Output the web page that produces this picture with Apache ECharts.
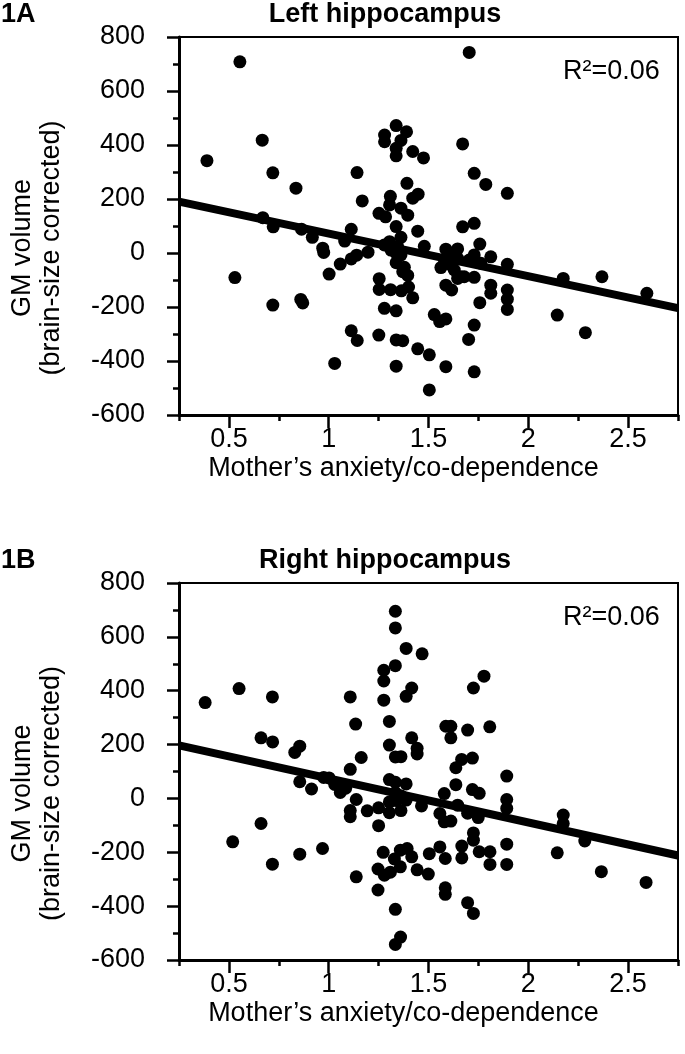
<!DOCTYPE html>
<html><head><meta charset="utf-8">
<script src="https://cdn.jsdelivr.net/npm/echarts@6/dist/echarts.min.js"></script>
<style>html,body{margin:0;padding:0;background:#fff}#c{width:685px;height:1054px}</style>
</head><body><div id="c"></div>
<script>
const panelLabels = ['1A', '1B'];
const panelTitles = ['Left hippocampus', 'Right hippocampus'];
const xAxisName = 'Mother\u2019s anxiety/co-dependence';
const yAxisName = 'GM volume\n(brain-size corrected)';
const rSquaredText = ['R\u00b2=0.06', 'R\u00b2=0.06'];
const xMajorTicks = [0.5, 1, 1.5, 2, 2.5];
const xMinorTicks = [0.25, 0.75, 1.25, 1.75, 2.25, 2.75];
const xRange = [0.25, 2.75];
const yRange = [-600, 800];
const yStep = 200;
const fitX = [0.25, 2.75];
const leftFitY = [190, -204];
const rightFitY = [197, -212];

const leftPoints = [
  [0.39,342],[0.53,-91],[0.555,708],[0.667,418],[0.67,131],[0.72,297],[0.722,97],[0.72,-193],
  [0.836,240],[0.864,88],[0.86,-172],[0.87,-185],[0.918,58],[0.97,18],[0.975,2],[1.002,-78],
  [1.03,-409],[1.058,-41],[1.08,44],[1.113,88],[1.113,-22],[1.113,-288],[1.143,-324],[1.142,298],
  [1.168,193],[1.197,3],[1.14,-8],
  [1.338,472],[1.39,449],[1.28,437],[1.28,412],[1.362,417],[1.338,388],[1.338,360],[1.421,376],
  [1.475,352],[1.392,258],[1.448,218],[1.421,203],[1.309,210],[1.305,178],[1.362,166],[1.252,147],
  [1.285,134],[1.396,140],[1.338,98],[1.446,81],[1.305,42],[1.362,58],[1.312,11],[1.346,23],
  [1.279,30],[1.338,-1],[1.362,-7],[1.338,-36],[1.379,-53],[1.371,-69],[1.396,-83],[1.253,-95],
  [1.253,-135],[1.31,-136],[1.364,-140],[1.4,-126],[1.421,-166],[1.279,-205],[1.338,-214],[1.479,25],
  [1.251,-304],[1.338,-322],[1.371,-325],[1.446,-355],[1.504,-377],[1.338,-419],[1.504,-507],
  [1.529,-228],[1.587,-244],[1.556,-254],[1.587,-421],[1.587,14],[1.646,15],[1.6,-8],[1.646,-20],
  [1.562,-54],[1.612,-44],[1.629,-63],[1.662,-88],[1.646,-94],[1.587,-119],[1.616,-137],[1.671,404],
  [1.704,743],[1.729,295],[1.787,254],[1.895,221],[1.671,97],[1.729,110],[1.757,33],[1.729,-7],
  [1.704,-26],[1.762,-38],[1.812,-14],[1.895,-42],[1.729,-90],[1.812,-119],[1.812,-149],[1.895,-137],
  [1.895,-171],[1.895,-209],[1.757,-184],[1.729,-267],[1.701,-320],[1.729,-440],[1.679,-88],[1.58,-26],
  [2.145,-230],[2.175,-94],[2.286,-295],[2.369,-88],[2.594,-149]
];

const rightPoints = [
  [0.381,356],[0.519,-161],[0.551,408],[0.661,225],[0.661,-93],[0.718,377],[0.719,210],[0.718,-244],
  [0.83,171],[0.855,194],[0.855,62],[0.855,-207],[0.914,35],[0.969,-186],[0.975,78],[1.002,76],
  [1.03,52],[1.058,22],[1.085,38],[1.108,377],[1.108,108],[1.135,276],[1.138,-4],[1.108,-45],
  [1.108,-68],[1.138,-291],[1.163,152],[1.193,-46],[1.25,-35],[1.25,-101],[1.247,-262],[1.247,-340],
  [1.273,-200],[1.279,-285],[1.309,-274],[1.276,476],[1.276,436],[1.276,365],[1.304,286],[1.304,198],
  [1.334,695],[1.334,633],[1.334,493],[1.334,154],[1.362,155],[1.388,557],[1.468,537],[1.416,410],
  [1.388,379],[1.416,225],[1.443,186],[1.443,165],[1.304,70],[1.334,60],[1.388,54],[1.334,22],
  [1.362,10],[1.338,-8],[1.304,-13],[1.304,-53],[1.362,-45],[1.465,-28],[1.359,-192],[1.393,-186],
  [1.416,-217],[1.329,-225],[1.359,-254],[1.443,-265],[1.334,-412],[1.334,-542],[1.36,-515],[1.388,-6],
  [1.499,-281],[1.504,-205],[1.557,-180],[1.584,-223],[1.584,-332],[1.584,-356],[1.587,268],[1.612,268],
  [1.612,225],[1.696,254],[1.778,454],[1.725,410],[1.807,266],[1.666,145],[1.72,150],[1.637,114],
  [1.637,51],[1.579,18],[1.72,33],[1.754,19],[1.557,-56],[1.579,-87],[1.612,-84],[1.696,-55],
  [1.749,-71],[1.646,-25],[1.667,-177],[1.667,-221],[1.725,-155],[1.725,-128],[1.754,-198],[1.808,-198],
  [1.808,-245],[1.696,-387],[1.725,-427],[1.892,83],[1.892,-4],[1.892,-37],[1.892,-170],[1.892,-245],
  [2.145,-202],[2.175,-62],[2.175,-93],[2.283,-158],[2.366,-272],[2.59,-312]
];

const FONT = '"Liberation Sans", Arial, sans-serif';
const grids = [
  { left: 176, right: 7, top: 37, height: 378 },
  { left: 176, right: 7, top: 583, height: 377 }
];

const xAxes = [];
const yAxes = [];
grids.forEach((g, i) => {
  xAxes.push({
    type: 'value', gridIndex: i, min: xRange[0], max: xRange[1],
    position: 'bottom',
    name: xAxisName, nameLocation: 'middle', nameGap: 40,
    nameTextStyle: { fontFamily: FONT, fontSize: 27, color: '#000', padding: [0, 50, 0, 0] },
    axisLine: { show: true, onZero: false, lineStyle: { color: '#000', width: 3 } },
    axisTick: { show: true, inside: false, length: 13, customValues: xMajorTicks, lineStyle: { color: '#000', width: 2.5 } },
    axisLabel: { show: true, customValues: xMajorTicks, margin: 11, fontFamily: FONT, fontSize: 27, color: '#000' },
    splitLine: { show: false }
  });
  xAxes.push({
    type: 'value', gridIndex: i, min: xRange[0], max: xRange[1],
    position: 'bottom',
    axisLine: { show: false, onZero: false },
    axisTick: { show: true, inside: false, length: 6, customValues: xMinorTicks, lineStyle: { color: '#000', width: 2.5 } },
    axisLabel: { show: false },
    splitLine: { show: false }
  });
  yAxes.push({
    type: 'value', gridIndex: i, min: yRange[0], max: yRange[1], interval: yStep,
    name: yAxisName, nameLocation: 'middle', nameRotate: 90, nameGap: 113,
    nameTextStyle: { fontFamily: FONT, fontSize: 27, lineHeight: 29, color: '#000', padding: [0, 44, 0, 0] },
    axisLine: { show: true, onZero: false, lineStyle: { color: '#000', width: 3 } },
    axisTick: { show: true, inside: false, length: 12, lineStyle: { color: '#000', width: 2.5 } },
    minorTick: { show: true, splitNumber: 2, length: 6, lineStyle: { color: '#000', width: 2.5 } },
    axisLabel: { margin: 34, fontFamily: FONT, fontSize: 27, color: '#000' },
    splitLine: { show: false }
  });
});

const pointSets = [leftPoints, rightPoints];
const fitSets = [leftFitY, rightFitY];
const series = [];
pointSets.forEach((pts, i) => {
  series.push({
    type: 'line', xAxisIndex: i * 2, yAxisIndex: i,
    data: fitX.map((x, k) => [x, fitSets[i][k]]),
    symbol: 'none', lineStyle: { color: '#000', width: 8 }, clip: true, z: 2, silent: true
  });
  series.push({
    type: 'scatter', xAxisIndex: i * 2, yAxisIndex: i,
    data: pts, symbol: 'circle', symbolSize: 13,
    itemStyle: { color: '#000', opacity: 1 }, z: 3, silent: true
  });
});

const graphics = [];
grids.forEach((g, i) => {
  const off = g.top - 37;
  graphics.push({ type: 'text', x: 1, y: 15 + off,
    style: { text: panelLabels[i], font: 'bold 27px ' + FONT, fill: '#000', align: 'left', verticalAlign: 'middle' } });
  graphics.push({ type: 'text', x: 385, y: 15 + off,
    style: { text: panelTitles[i], font: 'bold 27px ' + FONT, fill: '#000', align: 'center', verticalAlign: 'middle' } });
  graphics.push({ type: 'text', x: 563, y: 72 + off,
    style: { text: rSquaredText[i], font: '27px ' + FONT, fill: '#000', align: 'left', verticalAlign: 'middle' } });
});

const chart = echarts.init(document.getElementById('c'), null, { renderer: 'canvas' });
chart.setOption({
  animation: false,
  backgroundColor: '#fff',
  grid: grids.map(g => Object.assign({ show: true, borderColor: '#000', borderWidth: 2, backgroundColor: 'transparent' }, g)),
  xAxis: xAxes,
  yAxis: yAxes,
  series: series,
  graphic: graphics
});
</script>
</body></html>
